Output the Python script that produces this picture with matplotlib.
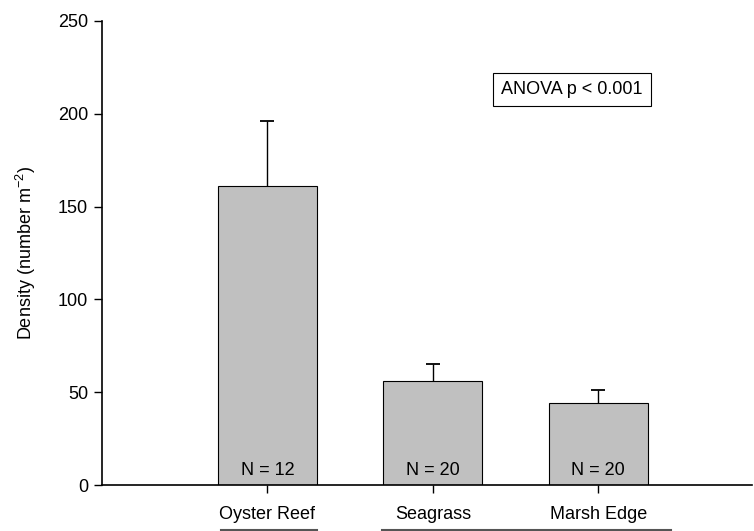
import numpy as np
import matplotlib
matplotlib.use("Agg")
import matplotlib.pyplot as plt
from matplotlib import transforms

plt.rcParams['font.family'] = ['Liberation Sans', 'DejaVu Sans']
plt.rcParams['font.size'] = 13
plt.rcParams['mathtext.fontset'] = 'custom'
plt.rcParams['mathtext.rm'] = 'Liberation Sans'
plt.rcParams['axes.unicode_minus'] = False

habitats = ["Oyster Reef", "Seagrass", "Marsh Edge"]
density = [161, 56, 44]
se = [35, 9, 7]
n_labels = ["N = 12", "N = 20", "N = 20"]
anova_text = "ANOVA p < 0.001"

# x extents (in category units) of the grouping lines under the labels
group_spans = [(-0.28, 0.30), (0.69, 2.44)]

fig = plt.figure(figsize=(7.54, 5.31), dpi=100)
ax = fig.add_axes([0.1353, 0.0866, 0.862, 0.874])

x = np.arange(len(habitats))
ax.bar(x, density, width=0.6, color="#c0c0c0", edgecolor="black",
       linewidth=0.8, zorder=2)
_, caps, _ = ax.errorbar(x, density, yerr=[np.zeros(len(se)), se], fmt="none",
                         ecolor="black", elinewidth=1.0, capsize=5,
                         capthick=1.3, zorder=1)
caps[0].set_visible(False)  # only the upper half of the error bar is shown

for xi, lab in zip(x, n_labels):
    ax.text(xi, 8, lab, ha="center", va="center", fontsize=13)

ax.text(1.84, 213, anova_text, ha="center", va="center", fontsize=13,
        bbox=dict(boxstyle="square,pad=0.45", facecolor="white",
                  edgecolor="black", linewidth=0.8))

ax.set_xlim(-1.0, 2.93)
ax.set_ylim(0, 250)
ax.set_yticks([0, 50, 100, 150, 200, 250])
ax.set_xticks(x)
ax.set_xticklabels(habitats)
ax.set_ylabel(r"Density (number m$^{\mathregular{-2}}$)", labelpad=14)

for s in ["top", "right"]:
    ax.spines[s].set_visible(False)
for s in ["left", "bottom"]:
    ax.spines[s].set_linewidth(1.2)
ax.tick_params(axis="both", direction="out", length=6, width=1.0, pad=4)
ax.tick_params(axis="x", pad=9)

trans = transforms.blended_transform_factory(ax.transData, fig.transFigure)
for x0, x1 in group_spans:
    fig.add_artist(plt.Line2D([x0, x1], [0.0015, 0.0015], transform=trans,
                              color="#555555", linewidth=1.5))

fig.savefig("out.png", dpi=100)
